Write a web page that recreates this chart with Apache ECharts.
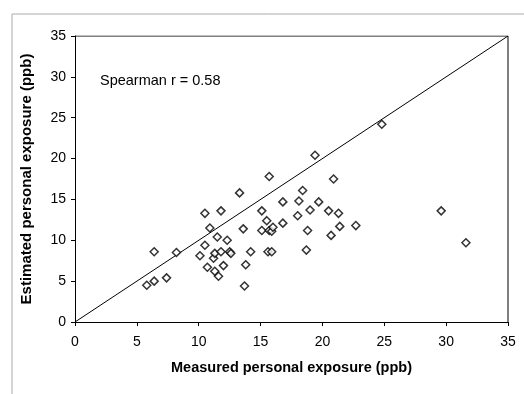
<!DOCTYPE html>
<html>
<head>
<meta charset="utf-8">
<script src="https://cdn.jsdelivr.net/npm/echarts@6/dist/echarts.min.js"></script>
<style>
  html, body { margin: 0; padding: 0; background: #fff; }
  #c1 { width: 524px; height: 394px; }
</style>
</head>
<body>
<div id="c1"></div>
<script>
// measured vs estimated personal exposure (ppb)
var measured = [
  5.8, 6.4, 6.4, 7.4, 8.2, 10.1, 10.5, 10.5, 10.7, 10.9,
  11.2, 11.3, 11.3, 11.5, 11.6, 11.8, 11.8, 12.0, 12.3, 12.5,
  12.6, 13.3, 13.6, 13.7, 13.8, 14.2, 15.1, 15.1, 15.5, 15.6,
  15.7, 15.7, 15.9, 15.9, 16.0, 16.8, 16.8, 18.0, 18.1, 18.4,
  18.7, 18.8, 19.0, 19.4, 19.7, 20.5, 20.7, 20.9, 21.3, 21.4,
  22.7, 24.8, 29.6, 31.6
];
var estimated = [
  4.5, 5.0, 8.6, 5.4, 8.5, 8.1, 13.3, 9.4, 6.7, 11.5,
  7.8, 8.4, 6.2, 10.4, 5.6, 13.6, 8.6, 6.9, 10.0, 8.6,
  8.4, 15.8, 11.4, 4.4, 7.0, 8.6, 13.6, 11.2, 12.4, 8.6,
  17.8, 11.2, 8.6, 11.1, 11.6, 14.7, 12.1, 13.0, 14.8, 16.1,
  8.8, 11.2, 13.7, 20.4, 14.7, 13.6, 10.6, 17.5, 13.3, 11.7,
  11.8, 24.2, 13.6, 9.7
];
var lineX = [0, 35];
var axisMax = 35;
var tickStep = 5;

var points = [];
for (var i = 0; i < measured.length; i++) {
  points.push([measured[i], estimated[i]]);
}
var linePts = lineX.map(function (v) { return [v, v]; });

var myChart = echarts.init(document.getElementById("c1"));
var font = "Liberation Sans, Arial, sans-serif";

var option = {
  animation: false,
  backgroundColor: "#fff",
  graphic: [
    {
      type: "rect",
      shape: { x: 12, y: 14, width: 530, height: 420 },
      style: { fill: "none", stroke: "#aaa", lineWidth: 1 },
      z: -1
    },
    {
      type: "text",
      left: 100,
      top: 73,
      style: {
        text: "Spearman r = 0.58",
        font: "14.5px " + font,
        fill: "#000"
      }
    }
  ],
  grid: { left: 75, right: 16, top: 36, bottom: 72 },
  xAxis: {
    type: "value",
    min: 0,
    max: axisMax,
    interval: tickStep,
    name: "Measured personal exposure (ppb)",
    nameLocation: "middle",
    nameGap: 38,
    nameTextStyle: { fontFamily: font, fontWeight: "bold", fontSize: 14.5, color: "#000" },
    axisLine: { show: true, lineStyle: { color: "#000", width: 1 } },
    axisTick: { show: true, inside: false, length: 4, lineStyle: { color: "#000" } },
    axisLabel: { fontFamily: font, fontSize: 14, color: "#000", margin: 13 },
    splitLine: { show: false }
  },
  yAxis: {
    type: "value",
    min: 0,
    max: axisMax,
    interval: tickStep,
    name: "Estimated personal exposure (ppb)",
    nameLocation: "middle",
    nameGap: 41,
    nameTextStyle: { fontFamily: font, fontWeight: "bold", fontSize: 15, color: "#000" },
    axisLine: { show: true, lineStyle: { color: "#000", width: 1 } },
    axisTick: { show: true, inside: false, length: 4, lineStyle: { color: "#000" } },
    axisLabel: { fontFamily: font, fontSize: 14, color: "#000", margin: 9 },
    splitLine: { show: false }
  },
  series: [
    {
      type: "line",
      data: linePts,
      symbol: "none",
      lineStyle: { color: "#000", width: 1 },
      z: 1
    },
    {
      type: "scatter",
      data: points,
      symbol: "diamond",
      symbolSize: 8,
      itemStyle: { color: "#fff", borderColor: "#000", borderWidth: 1.5 },
      z: 2
    },
    {
      // right and top frame of the plot area
      type: "line",
      data: [[0, axisMax], [axisMax, axisMax], [axisMax, 0]],
      symbol: "none",
      lineStyle: { color: "#000", width: 1 },
      z: 0
    }
  ]
};
myChart.setOption(option);
</script>
</body>
</html>
